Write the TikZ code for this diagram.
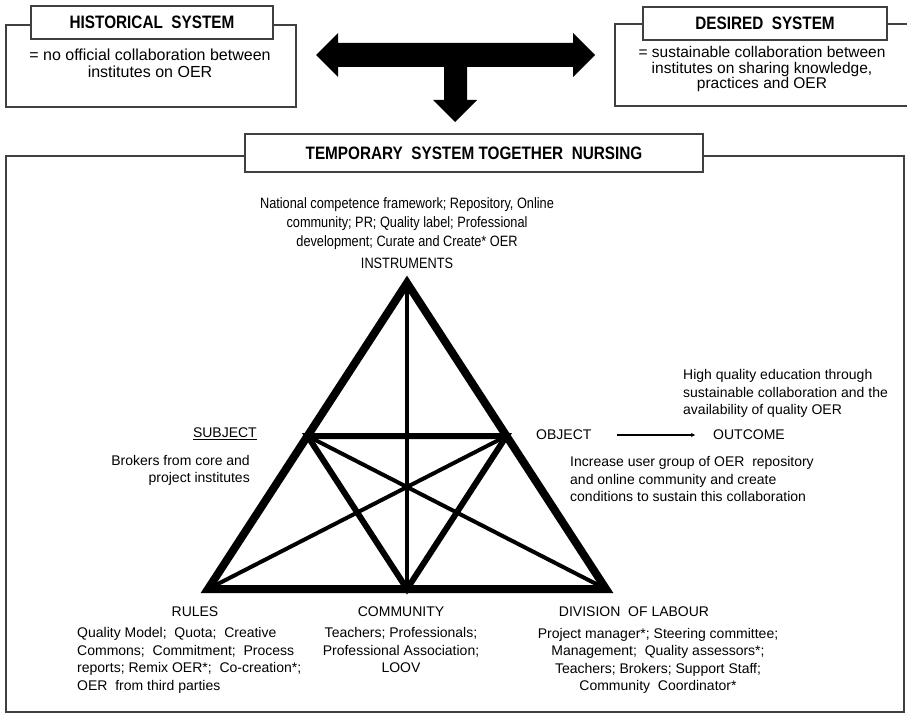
\documentclass[tikz,border=0pt]{standalone}
\usepackage{fontspec}
\setmainfont{Liberation Sans}
\newfontfamily\narrowfont[FakeStretch = 0.85]{Liberation Sans}
\usetikzlibrary{arrows.meta}

\begin{document}
\begin{tikzpicture}[x = 1pt, y = -1pt,
		frame/.style = {draw = black!75, line width = \framewidth},
		headbox/.style = {frame, fill = white, inner sep = 0pt, font = \narrowfont\bfseries\fontsize{18}{20}\selectfont},
		bodytext/.style = {inner sep = 0pt, font = \fontsize{14}{17.5}\selectfont},
		boxtext/.style = {inner sep = 0pt, align = center, anchor = north, font = \fontsize{16}{17}\selectfont},
		narrowtext/.style = {inner sep = 0pt, font = \narrowfont\fontsize{15}{19}\selectfont}]
		\def\framewidth{1.3pt}
		\def\outerwidth{8pt}
		\def\innerwidth{6pt}
		\def\medianwidth{4pt}
		\useasboundingbox (0, 0) rectangle (907, 714);
		%--------------------

		\node[frame, minimum width = 290, minimum height = 82] (histframe) at (151, 66) {};
		\node[headbox, minimum width = 242, minimum height = 33] (histhead) at (152, 22.5) {HISTORICAL\ \ SYSTEM};
		\node[boxtext] (histtext) at (150, 49) {= no official collaboration between\\institutes on OER};

		\draw[frame] (907, 24) -- (615, 24) -- (615, 106) -- (907, 106);
		\node[headbox, minimum width = 244, minimum height = 33] (deshead) at (765, 23.5) {DESIRED\ \ SYSTEM};
		\node[boxtext, font = \fontsize{15.5}{15.5}\selectfont] (destext) at (762, 46.5) {= sustainable collaboration between\\institutes on sharing knowledge,\\practices and OER};

		\fill[black] (316, 55) -- (338, 33) -- (338, 43) -- (573, 43) -- (573, 33) -- (595, 55) -- (573, 77) -- (573, 67) -- (467, 67) -- (467, 100) -- (477, 100) -- (455, 122) -- (433, 100) -- (444, 100) -- (444, 67) -- (338, 67) -- (338, 77) -- cycle;

		%--------------------
		\node[frame, minimum width = 898, minimum height = 556] (tempframe) at (455, 434) {};
		\node[headbox, minimum width = 458, minimum height = 38] (temphead) at (474, 153) {TEMPORARY\ \ SYSTEM TOGETHER\ \ NURSING};

		\coordinate (ptop) at (407, 283);
		\coordinate (pleft) at (208, 589);
		\coordinate (pright) at (606, 589);
		\coordinate (pmidl) at (307.5, 436);
		\coordinate (pmidr) at (506.5, 436);
		\coordinate (pmidb) at (407, 589);

		\draw[line width = \medianwidth] (ptop) -- (pmidb);
		\draw[line width = \medianwidth] (pleft) -- (pmidr);
		\draw[line width = \medianwidth] (pright) -- (pmidl);
		\draw[line width = \innerwidth] (pmidl) -- (pmidr) -- (pmidb) -- cycle;
		\draw[line width = \outerwidth] (ptop) -- (pleft) -- (pright) -- cycle;

		%--------------------
		\node[narrowtext, align = center, anchor = north] (instrtext) at (407, 197) {National competence framework; Repository, Online\\community; PR; Quality label; Professional\\development; Curate and Create* OER};
		\node[narrowtext] (instrlabel) at (407, 263) {INSTRUMENTS};

		\node[bodytext, anchor = east] (subjlabel) at (257, 434) {\underline{SUBJECT}};
		\node[bodytext, align = right, anchor = north east, font = \fontsize{14}{16.5}\selectfont] (subjtext) at (250, 455.5) {Brokers from core and\\project institutes};

		\node[bodytext, anchor = west] (objlabel) at (536, 435) {OBJECT};
		\node[bodytext, anchor = west] (outclabel) at (713, 435) {OUTCOME};
		\draw[line width = 1.5pt, -{Stealth[length = 4pt, width = 4pt]}, shorten < = 25pt, shorten > = 18pt] (objlabel) -- (outclabel);
		\node[bodytext, align = left, anchor = north west] (objtext) at (570, 456.5) {Increase user group of OER\ \ repository\\and online community and create\\conditions to sustain this collaboration};
		\node[bodytext, align = left, anchor = north west] (outctext) at (683, 369.5) {High quality education through\\sustainable collaboration and the\\availability of quality OER};

		\node[bodytext] (ruleslabel) at (195, 612) {RULES};
		\node[bodytext, align = left, anchor = north west] (rulestext) at (77, 627.5) {Quality Model;\ \ Quota;\ \ Creative\\Commons;\ \ Commitment;\ \ Process\\reports; Remix OER*;\ \ Co-creation*;\\OER\ \ from third parties};

		\node[bodytext] (commlabel) at (401, 612) {COMMUNITY};
		\node[bodytext, align = center, anchor = north] (commtext) at (401, 627.5) {Teachers; Professionals;\\Professional Association;\\LOOV};

		\node[bodytext] (labourlabel) at (634, 612) {DIVISION\ \ OF LABOUR};
		\node[bodytext, align = center, anchor = north] (labourtext) at (658, 628) {Project manager*; Steering committee;\\Management;\ \ Quality assessors*;\\Teachers; Brokers; Support Staff;\\Community\ \ Coordinator*};
\end{tikzpicture}
\end{document}
